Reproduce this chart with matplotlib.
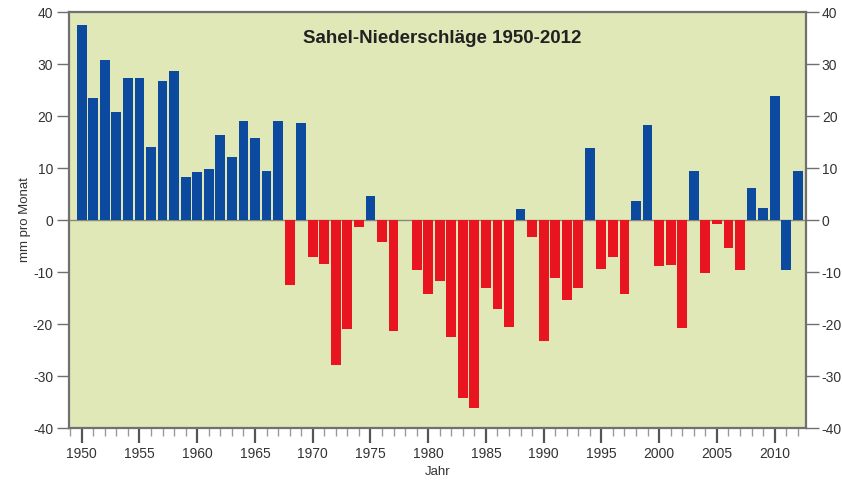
import matplotlib.pyplot as plt
from matplotlib.ticker import MultipleLocator

plt.rcParams['font.family'] = ['Liberation Sans', 'DejaVu Sans']
plt.rcParams['axes.unicode_minus'] = False

# Sahel precipitation anomaly, mm per month
years = list(range(1950, 2013))
values = [
    37.5, 23.4, 30.8, 20.8, 27.4, 27.4, 14.0, 26.8, 28.7, 8.2,      # 1950-59
    9.2, 9.8, 16.3, 12.2, 19.1, 15.7, 9.5, 19.1, -12.5, 18.7,       # 1960-69
    -7.2, -8.5, -27.9, -21.0, -1.4, 4.6, -4.2, -21.3, 0.0, -9.7,    # 1970-79
    -14.3, -11.7, -22.4, -34.2, -36.2, -13.0, -17.1, -20.6, 2.1, -3.2,  # 1980-89
    -23.3, -11.1, -15.3, -13.1, 13.8, -9.5, -7.2, -14.3, 3.7, 18.3,  # 1990-99
    -8.8, -8.7, -20.8, 9.5, -10.1, -0.8, -5.3, -9.6, 6.1, 2.4,      # 2000-09
    23.8, -9.7, 9.4,                                                # 2010-12
]
# years drawn in blue although the value is negative (as in the original)
always_blue = [2011]

BLUE = "#0b4a9e"
RED = "#e8141f"
BG = "#e1e8b7"
GREY = "#707070"

colors = [BLUE if (v >= 0 or y in always_blue) else RED for y, v in zip(years, values)]

fig = plt.figure(figsize=(8.42, 4.82), dpi=100)
ax = fig.add_axes([0.082, 0.112, 0.875, 0.863])
ax.set_facecolor(BG)

ax.bar(years, values, width=0.85, color=colors, zorder=3)
ax.axhline(0, color="#8a8a7a", lw=1.0, zorder=2)

ax.set_xlim(1948.9, 2012.7)
ax.set_ylim(-40, 40)
ax.xaxis.set_major_locator(MultipleLocator(5))
ax.xaxis.set_minor_locator(MultipleLocator(1))
ax.yaxis.set_major_locator(MultipleLocator(10))

for s in ax.spines.values():
    s.set_color(GREY)
    s.set_linewidth(1.6)

ax.tick_params(axis="x", which="major", length=11, width=1.6, color="#555555",
               labelsize=10, pad=3)
ax.tick_params(axis="x", which="minor", length=6, width=1.0, color="#999999")
ax.tick_params(axis="y", which="major", length=9, width=1.0, color=GREY,
               labelsize=10, left=True, right=True, labelleft=True, labelright=True)
ax.tick_params(axis="y", which="major", pad=2.5)
for lbl in ax.get_xticklabels() + ax.get_yticklabels():
    lbl.set_color("#333333")

ax.set_xlabel("Jahr", fontsize=9.5, color="#333333", labelpad=3)
ax.set_ylabel("mm pro Monat", fontsize=9.5, color="#333333", labelpad=1)

ax.text(0.506, 0.9375, "Sahel-Niederschläge 1950-2012", transform=ax.transAxes,
        ha="center", va="center", fontsize=13.5, fontweight="bold", color="#222222")

fig.savefig("out.png", dpi=100)
